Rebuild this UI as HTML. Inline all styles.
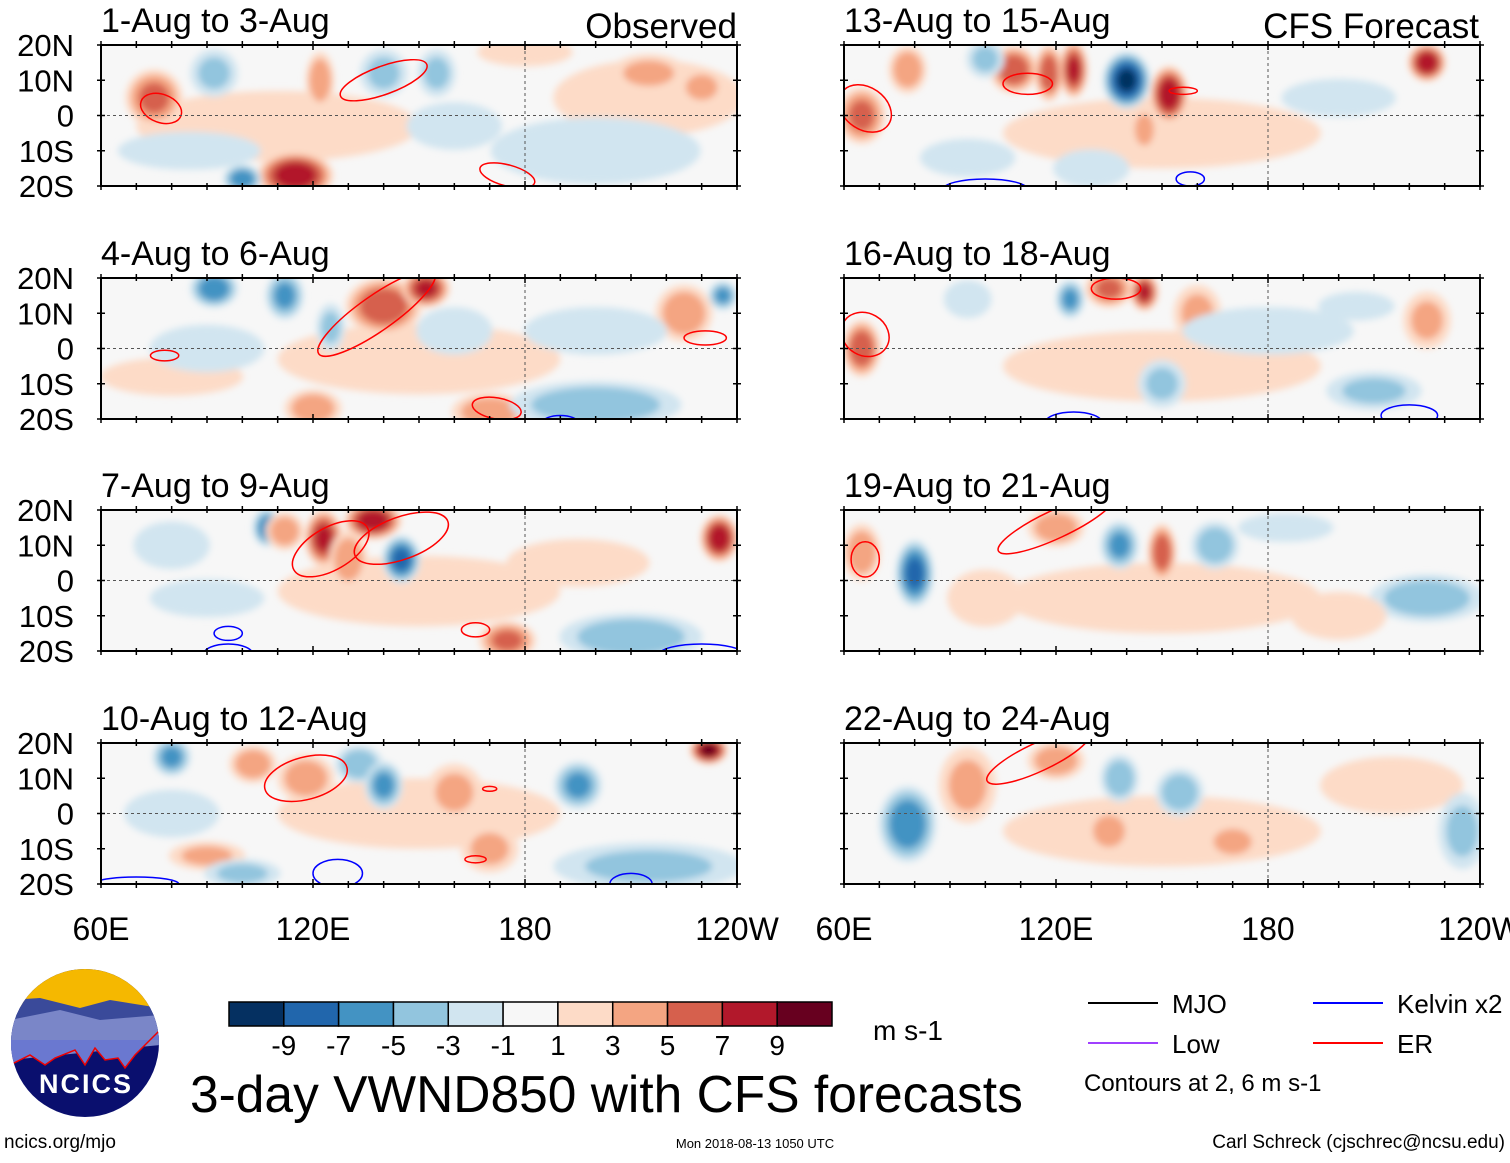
<!DOCTYPE html>
<html><head><meta charset="utf-8"><style>
body{margin:0;background:#fff;width:1510px;height:1158px;overflow:hidden;font-family:"Liberation Sans",sans-serif}
svg text{font-family:"Liberation Sans",sans-serif}
</style></head><body>
<svg id="c" width="1510" height="1158" xmlns="http://www.w3.org/2000/svg"></svg>
<script>
const panelTitles=["1-Aug to 3-Aug","4-Aug to 6-Aug","7-Aug to 9-Aug","10-Aug to 12-Aug","13-Aug to 15-Aug","16-Aug to 18-Aug","19-Aug to 21-Aug","22-Aug to 24-Aug"];
const latTicks=["20N","10N","0","10S","20S"];
const lonTicks=["60E","120E","180","120W"];
const cbLabels=["-9","-7","-5","-3","-1","1","3","5","7","9"];
const cbColors=["#053061","#2166ac","#4393c3","#92c5de","#d1e5f0","#f7f7f7","#fddbc7","#f4a582","#d6604d","#b2182b","#67001f"];
// anomaly blobs: [lon, lat, lonRadius(deg), latRadius(deg), value m/s]
const blobs=[
 [[110,-3,40,10,1.5],[215,5,20,8,1.5],[75,5,6,6,5],[115,-17,8,5,8],[92,12,5,5,-3],[100,-18,4,3,-6],[140,12,5,5,-3],[122,10,3,6,4],[155,12,4,5,-3],[200,-10,22,7,-2],[85,-10,15,4,-2],[215,12,8,4,3],[230,8,5,4,3],[180,18,10,3,2],[160,-3,10,5,-2]],
 [[150,-3,40,10,1.5],[92,17,5,4,-6],[112,15,4,5,-5],[140,12,8,6,6],[152,17,5,4,7],[125,6,3,5,-3],[120,-17,6,4,4],[170,-18,8,4,4],[200,-16,18,5,-4],[225,10,6,6,4],[236,15,3,3,-5],[80,-8,15,4,2],[160,5,8,5,-2],[90,0,12,5,-2],[200,5,15,5,-2]],
 [[150,-3,40,10,1.5],[123,12,4,6,7],[137,17,6,4,8],[145,6,4,5,-7],[107,15,3,4,-6],[112,14,4,4,4],[130,6,4,6,4],[175,-17,6,4,5],[210,-16,15,5,-4],[235,12,4,5,8],[90,-5,12,4,-2],[195,5,15,5,2],[80,10,8,5,-2]],
 [[150,0,40,10,1.2],[80,16,4,4,-5],[103,14,5,4,4],[118,10,6,5,4],[133,14,5,4,-4],[140,8,4,5,-5],[160,6,6,6,3],[195,8,5,5,-5],[170,-10,6,5,3],[232,18,4,3,9],[215,-15,20,5,-3],[90,-12,8,3,3],[100,-17,8,3,-3],[80,0,10,5,-2]],
 [[150,-5,45,10,1.3],[65,0,5,6,5],[78,13,4,5,4],[108,13,5,5,6],[118,12,3,6,6],[125,13,3,6,7],[140,10,5,6,-9],[152,6,4,6,8],[145,-4,3,5,3],[130,-15,8,4,-2],[225,15,4,4,8],[100,16,4,4,-3],[95,-12,10,4,-2],[200,5,12,4,-2]],
 [[150,-5,45,10,1.2],[65,0,4,6,6],[135,17,5,4,5],[145,16,3,4,7],[124,14,3,4,-5],[160,10,5,6,3],[180,5,18,5,-2],[225,8,5,6,3],[205,12,8,3,-2],[95,14,5,4,-2],[150,-10,5,5,-3],[210,-12,10,4,-3]],
 [[150,-5,45,10,1.2],[80,2,4,7,-7],[65,8,4,6,4],[120,15,6,4,4],[138,10,4,5,-5],[150,8,3,6,6],[165,10,5,5,-4],[225,-5,12,5,-4],[200,-10,10,5,2],[100,-5,8,6,2],[185,15,10,3,-2]],
 [[150,-5,45,10,1.2],[78,-3,6,8,-6],[95,8,6,8,3],[120,15,6,4,4],[138,10,4,5,-4],[155,6,5,5,-4],[135,-5,5,5,3],[170,-8,6,4,3],[215,8,15,6,2],[235,-5,5,8,-3]]
];
// contours: [lon, lat, lonRadius, latRadius, rotDeg, type]  type: r=ER b=Kelvin
const contours=[
 [[77,2,6,4,20,"r"],[140,10,13,4,-20,"r"],[175,-17,8,3,15,"r"]],
 [[78,-2,4,1.5,0,"r"],[138,10,20,5,-35,"r"],[231,3,6,2,0,"r"],[172,-17,7,3,10,"r"],[190,-21,5,2,0,"b"]],
 [[125,9,12,6,-30,"r"],[145,12,14,6,-20,"r"],[166,-14,4,2,0,"r"],[96,-15,4,2,0,"b"],[96,-21,7,3,0,"b"],[230,-21,12,3,0,"b"]],
 [[118,10,12,6,-15,"r"],[170,7,2,0.7,0,"r"],[166,-13,3,1,0,"r"],[70,-20,12,2,0,"b"],[127,-17,7,4,0,"b"],[210,-20,6,3,0,"b"]],
 [[66,2,8,6,35,"r"],[112,9,7,3,0,"r"],[156,7,4,1,0,"r"],[100,-21,12,3,0,"b"],[158,-18,4,2,0,"b"]],
 [[66,4,7,6,30,"r"],[137,17,7,3,0,"r"],[125,-21,8,3,0,"b"],[220,-19,8,3,0,"b"]],
 [[66,6,4,5,0,"r"],[120,16,18,4,-25,"r"]],
 [[115,16,16,4,-25,"r"]]
];
const NS="http://www.w3.org/2000/svg";
const svg=document.getElementById('c');
function mk(t,a,p){const e=document.createElementNS(NS,t);for(const k in a)e.setAttribute(k,a[k]);(p||svg).appendChild(e);return e;}
function colorFor(v){const idx=Math.max(0,Math.min(10,Math.floor((v+11)/2)));return cbColors[idx];}
const colX=[101,844],rowY=[45,278,510,743],PW=636,PH=141,GROW=1.35;
const defs=mk('defs',{});
const flt=mk('filter',{id:'bl',x:'-20%',y:'-20%',width:'140%',height:'140%'},defs);
mk('feGaussianBlur',{stdDeviation:'3.5'},flt);
for(let p=0;p<8;p++){
  const x0=colX[Math.floor(p/4)],y0=rowY[p%4];
  const xs=lon=>x0+(lon-60)/180*PW, ys=lat=>y0+(20-lat)/40*PH;
  const sx=PW/180, sy=PH/40;
  const g=mk('g',{});
  
  
  const cp=mk('clipPath',{id:'cp'+p},defs);
  mk('rect',{x:x0,y:y0,width:PW,height:PH},cp);
  mk('rect',{x:x0,y:y0,width:PW,height:PH,fill:'#f7f7f7'},g);
  const fg=mk('g',{'clip-path':'url(#cp'+p+')'},g);
  const fg2=mk('g',{filter:'url(#bl)'},fg);
  blobs[p].forEach((b,bi)=>{
    const [lon,lat,rl,rt,v]=b;const a=Math.abs(v),s=Math.sign(v);
    const gr=bi===0?1:GROW;
    for(let L=1;L<=a;L+=2){
      const f=Math.sqrt(1-(L-1)/(a+0.6));
      const e=mk('ellipse',{cx:xs(lon),cy:ys(lat),rx:rl*sx*f*gr,ry:rt*sy*f*gr,fill:colorFor(s*(L+0.5))},fg2);
      
      
    }
  });
  contours[p].forEach(c=>{
    const [lon,lat,rl,rt,rot,t]=c;
    const e=mk('ellipse',{cx:xs(lon),cy:ys(lat),rx:rl*sx,ry:rt*sy,fill:'none',stroke:t==='r'?'#f00':'#00f','stroke-width':1.5,transform:`rotate(${rot} ${xs(lon)} ${ys(lat)})`},fg);
    
    
  });
  mk('line',{x1:x0,x2:x0+PW,y1:ys(0),y2:ys(0),stroke:'#555','stroke-dasharray':'3,3','stroke-width':1},g);
  mk('line',{x1:xs(180),x2:xs(180),y1:y0,y2:y0+PH,stroke:'#555','stroke-dasharray':'3,3','stroke-width':1},g);
  mk('rect',{x:x0,y:y0,width:PW,height:PH,fill:'none',stroke:'#000','stroke-width':2},g);
  for(let lon=60;lon<=240;lon+=10){const X=xs(lon),big=(lon%60===0);
    mk('line',{x1:X,x2:X,y1:y0-4,y2:y0+(big?5:3),stroke:'#000','stroke-width':1.5},g);
    mk('line',{x1:X,x2:X,y1:y0+PH+4,y2:y0+PH-(big?5:3),stroke:'#000','stroke-width':1.5},g);}
  for(let lat=-20;lat<=20;lat+=10){mk('line',{x1:x0-4,x2:x0+4,y1:ys(lat),y2:ys(lat),stroke:'#000','stroke-width':1.5},g);mk('line',{x1:x0+PW-4,x2:x0+PW+4,y1:ys(lat),y2:ys(lat),stroke:'#000','stroke-width':1.5},g);}
  const tt=mk('text',{x:x0,y:y0-13,'font-size':34},g);tt.textContent=panelTitles[p];
  
  
  if(p<4){latTicks.forEach((l,i)=>{const t=mk('text',{x:x0-27,y:ys(20-i*10)+11,'font-size':31,'text-anchor':'end'},g);t.textContent=l;
    
    });}
  if(p%4===3){lonTicks.forEach((l,i)=>{const t=mk('text',{x:x0+i*PW/3,y:940,'font-size':32,'text-anchor':'middle'},g);t.textContent=l;
    
    });}
}
let t=mk('text',{x:737,y:38,'font-size':35,'text-anchor':'end'});t.textContent='Observed';

t=mk('text',{x:1479,y:38,'font-size':35,'text-anchor':'end'});t.textContent='CFS Forecast';

// colorbar
const cb=mk('g',{});
const cbx=229,cbw=603/11;
cbColors.forEach((c,i)=>mk('rect',{x:cbx+i*cbw,y:1002,width:cbw,height:24,fill:c,stroke:'#000','stroke-width':1.5},cb));
cbLabels.forEach((l,i)=>{const e=mk('text',{x:cbx+(i+1)*cbw,y:1055,'font-size':28,'text-anchor':'middle'},cb);e.textContent=l;});
t=mk('text',{x:873,y:1040,'font-size':28});t.textContent='m s-1';
t=mk('text',{x:190,y:1112,'font-size':51.5});t.textContent='3-day VWND850 with CFS forecasts';

// legend
const lg=mk('g',{});
[[1088,1003,'#000','MJO'],[1313,1003,'#00f','Kelvin x2'],[1088,1043,'#a040ff','Low'],[1313,1043,'#f00','ER']].forEach(a=>{
 mk('line',{x1:a[0],x2:a[0]+70,y1:a[1],y2:a[1],stroke:a[2],'stroke-width':2},lg);
 const e=mk('text',{x:a[0]+84,y:a[1]+10,'font-size':26},lg);e.textContent=a[3];});
t=mk('text',{x:1084,y:1091,'font-size':24},lg);t.textContent='Contours at 2, 6 m s-1';
t=mk('text',{x:4,y:1148,'font-size':19});t.textContent='ncics.org/mjo';
t=mk('text',{x:755,y:1148,'font-size':13,'text-anchor':'middle'});t.textContent='Mon 2018-08-13 1050 UTC';
t=mk('text',{x:1505,y:1148,'font-size':19,'text-anchor':'end'});t.textContent='Carl Schreck (cjschrec@ncsu.edu)';
// logo
const lo=mk('g',{});
const lc=mk('clipPath',{id:'lc'},defs);mk('circle',{cx:85,cy:1043,r:74},lc);
const li=mk('g',{'clip-path':'url(#lc)'},lo);
mk('rect',{x:10,y:968,width:150,height:150,fill:'#0a0f6e'},li);
mk('rect',{x:10,y:968,width:150,height:40,fill:'#f5b800'},li);
mk('path',{d:'M10 1000 L40 998 L80 1008 L110 1000 L160 1008 L160 1040 L10 1050Z',fill:'#3a4a9a'},li);
mk('path',{d:'M10 1020 L60 1010 L100 1020 L160 1015 L160 1045 L10 1060Z',fill:'#7a86c8'},li);
mk('path',{d:'M10 1065 L30 1055 L45 1065 L55 1058 L75 1050 L85 1065 L95 1048 L105 1060 L118 1058 L125 1068 L135 1055 L160 1030 L160 1040 L10 1040Z',fill:'#6a78d0'},li);
mk('path',{d:'M10 1065 L30 1055 L45 1065 L55 1058 L75 1050 L85 1065 L95 1048 L105 1060 L118 1058 L125 1068 L135 1055 L160 1030',fill:'none',stroke:'#e00','stroke-width':1.5},li);
t=mk('text',{x:86,y:1093,'font-size':27,'font-weight':'bold',fill:'#fff','text-anchor':'middle','letter-spacing':'2'},lo);t.textContent='NCICS';
</script>
</body></html>
